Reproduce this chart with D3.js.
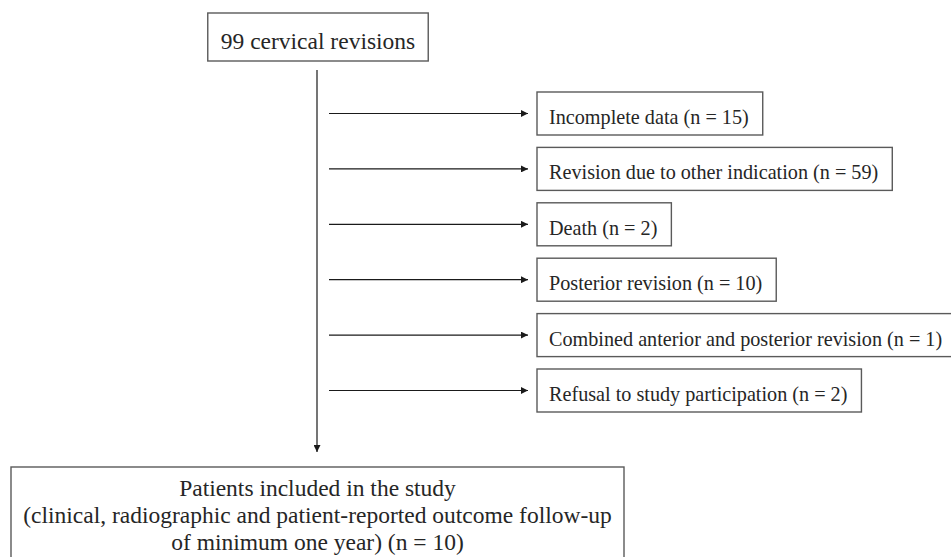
<!DOCTYPE html>
<html>
<head>
<meta charset="utf-8">
<script src="https://cdn.jsdelivr.net/npm/d3@7"></script>
<style>
  html, body { margin: 0; padding: 0; background: #fff; }
  svg { display: block; }
  text { font-family: "Liberation Serif", "Times New Roman", serif; fill: #262626; }
</style>
</head>
<body>
<svg id="chart" width="951" height="557"></svg>
<script>
// ---- data ----
const totalLabel = "cervical revisions";
const totalCount = 99;
const exclusionLabels = [
  "Incomplete data",
  "Revision due to other indication",
  "Death",
  "Posterior revision",
  "Combined anterior and posterior revision",
  "Refusal to study participation"
];
const exclusionCounts = [15, 59, 2, 10, 1, 2];
const includedLines = [
  "Patients included in the study",
  "(clinical, radiographic and patient-reported outcome follow-up",
  "of minimum one year)"
];
const includedCount = 10;

// ---- layout ----
const svg = d3.select("#chart");
const W = 951, H = 557;
const boxStroke = "#5a5a5a";
const lineStroke = "#1a1a1a";

svg.append("defs").append("marker")
  .attr("id", "arrow")
  .attr("viewBox", "0 0 10 10")
  .attr("refX", 10).attr("refY", 5)
  .attr("markerWidth", 9).attr("markerHeight", 7)
  .attr("markerUnits", "userSpaceOnUse")
  .attr("orient", "auto")
  .append("path").attr("d", "M0,0 L10,5 L0,10 Z").attr("fill", lineStroke);

const mainX = 317;

// top box
const topText = svg.append("text")
  .attr("x", mainX + 1).attr("y", 49)
  .attr("text-anchor", "middle")
  .style("font-size", "23.5px")
  .text(`${totalCount} ${totalLabel}`);
const topW = topText.node().getComputedTextLength() + 26;
svg.insert("rect", "text")
  .attr("x", mainX + 1 - topW / 2).attr("y", 13)
  .attr("width", topW).attr("height", 48)
  .attr("fill", "none").attr("stroke", boxStroke).attr("stroke-width", 1.4);

// vertical flow line
svg.append("line")
  .attr("x1", mainX).attr("x2", mainX)
  .attr("y1", 70).attr("y2", 452)
  .attr("stroke", lineStroke).attr("stroke-width", 1.2)
  .attr("marker-end", "url(#arrow)");

// exclusion rows
const rowY = d3.scaleLinear().domain([0, exclusionLabels.length - 1]).range([92, 369]);
const boxX = 537, boxH = 43;
const arrowX0 = 329, arrowX1 = 528;

const rows = svg.append("g").selectAll("g")
  .data(exclusionLabels.map((l, i) => ({ label: l, n: exclusionCounts[i], i })))
  .join("g");

rows.append("line")
  .attr("x1", arrowX0).attr("x2", arrowX1)
  .attr("y1", d => rowY(d.i) + 21.5).attr("y2", d => rowY(d.i) + 21.5)
  .attr("stroke", lineStroke).attr("stroke-width", 1.2)
  .attr("marker-end", "url(#arrow)");

rows.append("text")
  .attr("x", boxX + 12)
  .attr("y", d => rowY(d.i) + 32)
  .style("font-size", "20.2px")
  .text(d => `${d.label} (n = ${d.n})`);

rows.each(function(d) {
  const g = d3.select(this);
  const len = g.select("text").node().getComputedTextLength();
  g.insert("rect", "text")
    .attr("x", boxX).attr("y", rowY(d.i))
    .attr("width", len + 26).attr("height", boxH)
    .attr("fill", "none").attr("stroke", boxStroke).attr("stroke-width", 1.4);
});

// bottom box
const botCx = mainX + 0.5;
svg.append("rect")
  .attr("x", 11).attr("y", 467)
  .attr("width", 613).attr("height", 110)
  .attr("fill", "none").attr("stroke", boxStroke).attr("stroke-width", 1.4);

const lines = includedLines.slice();
lines[lines.length - 1] = `${lines[lines.length - 1]} (n = ${includedCount})`;
svg.append("g").selectAll("text")
  .data(lines)
  .join("text")
  .attr("x", botCx)
  .attr("y", (d, i) => 496 + i * 27)
  .attr("text-anchor", "middle")
  .style("font-size", "23.5px")
  .text(d => d);
</script>
</body>
</html>
